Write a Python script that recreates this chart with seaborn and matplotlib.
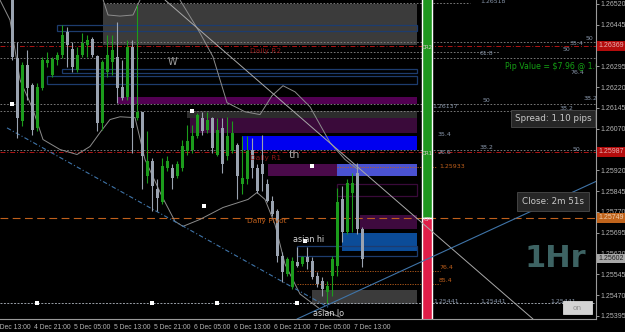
import numpy as np
import pandas as pd
import matplotlib
matplotlib.use("Agg")
import matplotlib.pyplot as plt
import matplotlib.transforms as mtransforms
from matplotlib.patches import Rectangle
import seaborn as sns

# ---------------- data ----------------
times = pd.date_range("2017-12-04 13:00", periods=71, freq="h")
opens = [1.26570, 1.26326, 1.26096, 1.26300, 1.26229, 1.26074, 1.26218, 1.26308, 1.26264, 1.26318,
         1.26336, 1.26419, 1.26358, 1.26282, 1.26336, 1.26372, 1.26394, 1.26333, 1.26092, 1.26275,
         1.26311, 1.26329, 1.26221, 1.26185, 1.26365, 1.26110, 1.26131, 1.25898, 1.25952, 1.25851,
         1.25804, 1.25930, 1.25930, 1.25898, 1.25930, 1.25988, 1.25995, 1.26042, 1.26110, 1.26067,
         1.26110, 1.25977, 1.26074, 1.25970, 1.25988, 1.26013, 1.25869, 1.25887, 1.25995, 1.25930,
         1.25941, 1.25869, 1.25808, 1.25772, 1.25610, 1.25546, 1.25499, 1.25589, 1.25582, 1.25607,
         1.25592, 1.25538, 1.25520, 1.25481, 1.25538, 1.25574, 1.25815, 1.25697, 1.25840, 1.25912,
         1.25707]
highs = [1.26606, 1.26383, 1.26311, 1.26354, 1.26236, 1.26236, 1.26329, 1.26347, 1.26329, 1.26347,
         1.26444, 1.26437, 1.26383, 1.26365, 1.26415, 1.26408, 1.26401, 1.26336, 1.26318, 1.26408,
         1.26408, 1.26455, 1.26318, 1.26390, 1.26390, 1.26516, 1.26131, 1.26060, 1.25966, 1.25887,
         1.25966, 1.25970, 1.25941, 1.25952, 1.26031, 1.26085, 1.26085, 1.26128, 1.26131, 1.26131,
         1.26113, 1.26110, 1.26110, 1.26113, 1.26096, 1.26020, 1.26042, 1.26042, 1.26038, 1.25941,
         1.26049, 1.25887, 1.25826, 1.25779, 1.25625, 1.25607, 1.25607, 1.25643, 1.25610, 1.25643,
         1.25607, 1.25553, 1.25535, 1.25520, 1.25610, 1.25858, 1.25862, 1.25887, 1.25912, 1.25948,
         1.25715]
lows = [1.26318, 1.26038, 1.26078, 1.26175, 1.26049, 1.26060, 1.26211, 1.26293, 1.26257, 1.26300,
        1.26326, 1.26293, 1.26275, 1.26275, 1.26329, 1.26329, 1.26329, 1.26060, 1.26067, 1.26257,
        1.26264, 1.26164, 1.26175, 1.26175, 1.25984, 1.26103, 1.25851, 1.25876, 1.25772, 1.25772,
        1.25797, 1.25916, 1.25851, 1.25894, 1.25916, 1.25977, 1.25984, 1.26038, 1.26049, 1.26056,
        1.25984, 1.25970, 1.25912, 1.25959, 1.25984, 1.25815, 1.25833, 1.25869, 1.25894, 1.25840,
        1.25844, 1.25804, 1.25754, 1.25589, 1.25517, 1.25538, 1.25492, 1.25571, 1.25574, 1.25564,
        1.25528, 1.25499, 1.25467, 1.25441, 1.25467, 1.25538, 1.25661, 1.25689, 1.25697, 1.25689,
        1.25571]
closes = [1.26329, 1.26110, 1.26300, 1.26218, 1.26067, 1.26221, 1.26318, 1.26318, 1.26322, 1.26336,
          1.26408, 1.26372, 1.26293, 1.26336, 1.26379, 1.26390, 1.26336, 1.26092, 1.26311, 1.26336,
          1.26354, 1.26218, 1.26182, 1.26365, 1.26074, 1.26131, 1.25970, 1.25952, 1.25862, 1.25822,
          1.25934, 1.25952, 1.25894, 1.25941, 1.26006, 1.26024, 1.26042, 1.26121, 1.26060, 1.26103,
          1.26002, 1.26067, 1.25941, 1.26042, 1.26056, 1.25898, 1.25894, 1.25988, 1.25930, 1.25844,
          1.25905, 1.25808, 1.25761, 1.25610, 1.25553, 1.25600, 1.25592, 1.25574, 1.25607, 1.25589,
          1.25535, 1.25510, 1.25492, 1.25503, 1.25600, 1.25804, 1.25697, 1.25876, 1.25876, 1.25707,
          1.25602]

# envelope curves (bar index, price)
lower_x = [-2.4, -0.4, 1.6, 4.2, 6.2, 9.6, 13.0, 15.6, 17.6, 19.6, 21.6, 24.6, 26.6, 30.0, 32.6,
           34.2, 37.6, 42.2, 47.2, 49.0, 50.6, 52.6, 54.6, 57.6, 61.6, 65.6]
lower_y = [1.26534, 1.26462, 1.26246, 1.26139, 1.26031, 1.25995, 1.25977, 1.26006, 1.26056, 1.26103,
           1.26113, 1.26110, 1.25959, 1.25826, 1.25736, 1.25718, 1.25743, 1.25786, 1.25815, 1.25840,
           1.25815, 1.25725, 1.25582, 1.25474, 1.25420, 1.25391]
upper_x = [17.6, 19.2, 21.6, 24.2, 25.6, 26.5, 33.0, 33.6, 37.6, 40.2, 43.0, 46.6, 49.6, 52.0,
           54.2, 56.6, 59.6, 63.6, 66.6, 69.2]
upper_y = [1.26570, 1.26480, 1.26476, 1.26480, 1.26534, 1.26570, 1.26570, 1.26534, 1.26415, 1.26329,
           1.26164, 1.26131, 1.26121, 1.26189, 1.26225, 1.26203, 1.26149, 1.26020, 1.25959, 1.25923]

date_ticks = [0, 8, 16, 24, 32, 40, 48, 56, 64, 72]
date_labels = ["4 Dec 13:00", "4 Dec 21:00", "5 Dec 05:00", "5 Dec 13:00", "5 Dec 21:00",
               "6 Dec 05:00", "6 Dec 13:00", "6 Dec 21:00", "7 Dec 05:00", "7 Dec 13:00"]
price_ticks = [1.25395 + 0.00075 * k for k in range(16)]

daily_r2, daily_r1, daily_pivot = 1.26369, 1.25987, 1.25749
last_price = 1.25602
high_level = 1.25933
asian_low = 1.25441
fib_764, fib_854 = 1.25556, 1.25510
grey_levels = [1.26383, 1.26326, 1.26160, 1.26135, 1.25995]

# zones: (x0, x1, p_low, p_high, face)
zones = [
    (18.2, 81, 1.26372, 1.26520, "#3b3b3b"),
    (21.2, 81, 1.26160, 1.26185, "#520052"),
    (35.0, 81, 1.26110, 1.26135, "#2c2c2c"),
    (35.6, 81, 1.26056, 1.26110, "#3a0a3a"),
    (46.0, 81, 1.25995, 1.26045, "#0000f0"),
    (51.2, 81, 1.25898, 1.25941, "#4a0a4a"),
    (65.0, 81, 1.25898, 1.25941, "#4a52d2"),
    (69.6, 81, 1.25707, 1.25758, "#3e0a3e"),
    (66.0, 81, 1.25628, 1.25693, "#0b4c98"),
    (60.0, 81, 1.25438, 1.25488, "#3b3b3b"),
]
outlines = [
    (9.0, 81, 1.26423, 1.26444, "#1d3c6e"),
    (10.0, 81, 1.26272, 1.26286, "#1d3c6e"),
    (7.0, 81, 1.26232, 1.26261, "#1d3c6e"),
    (65.0, 81, 1.25826, 1.25869, "#3a0a3a"),
    (57.0, 81, 1.25610, 1.25646, "#1d3c6e"),
]

# ---------------- figure ----------------
sns.set_style("dark", {"axes.facecolor": "black", "figure.facecolor": "black"})
plt.rcParams["font.family"] = ["DejaVu Sans"]
fig = plt.figure(figsize=(6.25, 3.32), dpi=100)
fig.patch.set_facecolor("black")
ax = fig.add_axes([0, 13 / 332, 596 / 625, 319 / 332])
ax.set_facecolor("black")
ax.set_xlim(-2.4, 116.8)
ax.set_ylim(1.25384, 1.26534)
ax.grid(False)

for x0, x1, p0, p1, fc in zones:
    ax.add_patch(Rectangle((x0, p0), x1 - x0, p1 - p0, facecolor=fc, edgecolor="none", zorder=1))
for x0, x1, p0, p1, ec in outlines:
    ax.add_patch(Rectangle((x0, p0), x1 - x0, p1 - p0, facecolor="none", edgecolor=ec, lw=0.9, zorder=1.2))

# horizontal levels
for lv in grey_levels:
    ax.axhline(lv, color="#8a8a8a", lw=0.6, ls=(0, (2, 2)), zorder=1.5)
ax.plot([18.2, 91.6], [1.26523, 1.26523], color="#8a8a8a", lw=0.6, ls=(0, (2, 2)), zorder=1.5)
ax.plot([25.6, 97.6], [1.26347, 1.26347], color="#8a8a8a", lw=0.6, ls=(0, (2, 2)), zorder=1.5)
for lv in (daily_r2, daily_r1):
    ax.axhline(lv, color="#b01414", lw=0.7, ls=(0, (5, 2, 1, 2)), zorder=1.6)
ax.axhline(daily_pivot, color="#c0601c", lw=0.8, ls=(0, (7, 4)), zorder=1.6)
ax.axhline(asian_low, color="#9aa0a8", lw=0.7, ls=(0, (2, 1.5)), zorder=1.6)
ax.plot([65.0, 85.0], [high_level, high_level], color="#c0601c", lw=0.6, ls=(0, (1.5, 1.5)), zorder=1.6)
for lv in (fib_764, fib_854):
    ax.plot([57.0, 85.6], [lv, lv], color="#c0601c", lw=0.6, ls=(0, (1.5, 1.5)), zorder=1.6)

# daily range bar
ax.add_patch(Rectangle((82, daily_pivot), 2, 1.266 - daily_pivot, facecolor="#1f961f", zorder=2))
ax.add_patch(Rectangle((82, 1.2538), 2, daily_pivot - 1.2538, facecolor="#e01e48", zorder=2))
for lbl, lv in (("DR2", daily_r2), ("DR1", daily_r1), ("OP", daily_pivot)):
    ax.text(83, lv - 0.00006, lbl, color="#d8c8c8", fontsize=3.8, ha="center", va="center", zorder=3)

# envelope + trend lines
sns.lineplot(x=lower_x, y=lower_y, ax=ax, color="#8c8c8c", lw=0.7, zorder=2.5)
sns.lineplot(x=upper_x, y=upper_y, ax=ax, color="#8c8c8c", lw=0.7, zorder=2.5)
sns.lineplot(x=[-1.0, 63.6], y=[1.26073, 1.25423], ax=ax, color="#3f74a8", lw=0.8,
             linestyle=(0, (4, 2, 1, 2)), zorder=2.5)
sns.lineplot(x=[30.6, 104.2], y=[1.26534, 1.25384], ax=ax, color="#a8a8a8", lw=0.7, zorder=2.5)
sns.lineplot(x=[57.0, 116.8], y=[1.25384, 1.25880], ax=ax, color="#3f74a8", lw=0.8, zorder=2.5)

# candles
x = np.arange(len(times))
o, h, l, c = map(np.array, (opens, highs, lows, closes))
bull = c >= o
cols = np.where(bull, "#1c9c1c", "#9aa3b0")
ax.vlines(x, l, h, colors=cols, lw=0.8, zorder=3)
ax.bar(x, np.where(np.abs(c - o) < 0.00003, 0.00003, c - o), bottom=o, width=0.6,
       color=cols, edgecolor="none", zorder=3.2)

# markers
ax.scatter([0, 36, 38.4, 58.6, 60], [1.26160, 1.26135, 1.25790, 1.25664, 1.25934],
           s=5, marker="s", color="white", zorder=4, linewidths=0)
ax.scatter([5, 28, 41, 57], [asian_low] * 4, s=5, marker="s", color="white", zorder=4, linewidths=0)

# chart texts
txt = dict(zorder=5, va="center")
ax.text(32, 1.26311, "W", color="#a0a0a0", fontsize=7, ha="center", **txt)
ax.text(47.6, 1.26351, "Daily R2", color="#8e1616", fontsize=5.3, ha="left", **txt)
ax.text(47.6, 1.25966, "Daily R1", color="#8e1616", fontsize=5.3, ha="left", **txt)
ax.text(55.4, 1.25977, "th", color="#a0a0a0", fontsize=8, ha="left", **txt)
ax.text(47.0, 1.25736, "Daily Pivot", color="#c0601c", fontsize=5.3, ha="left", **txt)
ax.text(56.2, 1.25671, "asian hi", color="#d8d8d8", fontsize=5.8, ha="left", **txt)
ax.text(60.2, 1.25405, "asian lo", color="#d8d8d8", fontsize=5.8, ha="left", **txt)
ax.text(85.4, 1.25933, "1.25933", color="#c0601c", fontsize=4.5, ha="left", **txt)
ax.text(85.4, 1.25556 + 0.00012, "76.4", color="#c0601c", fontsize=4.5, ha="left", **txt)
ax.text(85.4, 1.25510 + 0.00012, "85.4", color="#c0601c", fontsize=4.5, ha="left", **txt)

fib = [(93.6, 1.26528, "1.26518"), (114.8, 1.26397, "50"), (111.6, 1.26376, "35.4"),
       (110.2, 1.26354, "50"), (93.6, 1.26340, "61.8"), (111.6, 1.26271, "76.4"),
       (94.2, 1.26171, "50"), (114.4, 1.26178, "38.2"), (84.0, 1.26149, "1.26137"),
       (109.6, 1.26142, "38.2"), (111.0, 1.26120, "61.8"), (85.2, 1.26049, "35.4"),
       (93.6, 1.26002, "38.2"), (112.2, 1.25995, "50"), (85.2, 1.25984, "26.6"),
       (84.2, 1.25448, "1.25441"), (93.6, 1.25448, "1.25441"), (107.6, 1.25448, "1.25441")]
for fx, fy, ft in fib:
    ax.text(fx, fy, ft, color="#8896aa", fontsize=4.5, ha="left", **txt)

ax.text(98.6, 1.26293, "Pip Value = $7.96 @ 1.00", color="#14a014", fontsize=5.7,
        ha="left", clip_on=True, **txt)
box = dict(boxstyle="square,pad=0.45", facecolor="#262626", edgecolor="#4a4a4a", lw=0.6)
ax.text(108.2, 1.26106, "Spread: 1.10 pips", color="#c8c8c8", fontsize=6.3, ha="center",
        bbox=box, **txt)
ax.text(108.2, 1.25808, "Close: 2m 51s", color="#c8c8c8", fontsize=6.3, ha="center",
        bbox=dict(boxstyle="square,pad=0.55", facecolor="#262626", edgecolor="#4a4a4a", lw=0.6), **txt)
ax.text(108.6, 1.25603, "1Hr", color="#3d6363", fontsize=22, fontweight="bold",
        ha="center", **txt)
ax.add_patch(Rectangle((110.2, 1.25402), 5.8, 0.00046, facecolor="#d4d4d4", edgecolor="#eeeeee",
                       lw=0.5, zorder=5))
ax.text(113.1, 1.25425, "on", color="#909090", fontsize=5.3, ha="center", zorder=6, va="center")

# axes styling
for s in ("top", "left"):
    ax.spines[s].set_visible(False)
for s in ("right", "bottom"):
    ax.spines[s].set_visible(True)
    ax.spines[s].set_color("#9a9a9a")
    ax.spines[s].set_linewidth(0.8)
ax.yaxis.tick_right()
ax.set_yticks(price_ticks)
ax.set_yticklabels([f"{p:.5f}" for p in price_ticks], family="Liberation Sans")
ax.set_xticks(date_ticks)
ax.set_xticklabels(date_labels, family="Liberation Sans")
ax.tick_params(axis="y", colors="#b4b4b4", labelsize=5.0, length=2, width=0.6, pad=1.2)
ax.tick_params(axis="x", colors="#b4b4b4", labelsize=4.9, length=2, width=0.6, pad=1.5)
ax.set_xlabel("")
ax.set_ylabel("")
leg = ax.get_legend()
if leg:
    leg.remove()

# right-axis price labels
trans = mtransforms.blended_transform_factory(ax.transAxes, ax.transData)
for lv, fc, tc in ((daily_r2, "#b40c0c", "#e8b0b0"), (daily_r1, "#b40c0c", "#e8b0b0"),
                   (daily_pivot, "#c0641c", "#f0d0b0"), (last_price, "#a8a8a8", "#202020")):
    ax.text(1.004, lv, f"{lv:.5f}", transform=trans, color=tc, fontsize=5.0, ha="left", va="center",
            family="Liberation Sans",
            bbox=dict(boxstyle="square,pad=0.2", facecolor=fc, edgecolor="none"), zorder=10,
            clip_on=False)

fig.savefig("out.png", dpi=100, facecolor="black")
